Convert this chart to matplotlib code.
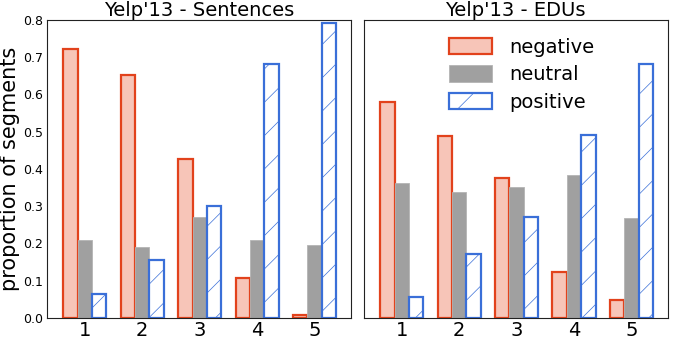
import numpy as np
import matplotlib
matplotlib.use("Agg")
import matplotlib.pyplot as plt

# datos
ratings = [1, 2, 3, 4, 5]
labels = ['negative', 'neutral', 'positive']
sent_neg = [0.722, 0.652, 0.427, 0.108, 0.008]
sent_neu = [0.209, 0.190, 0.270, 0.209, 0.195]
sent_pos = [0.064, 0.155, 0.300, 0.682, 0.793]
edu_neg = [0.581, 0.489, 0.375, 0.123, 0.047]
edu_neu = [0.362, 0.337, 0.352, 0.384, 0.269]
edu_pos = [0.056, 0.172, 0.272, 0.491, 0.681]

plt.rcParams['hatch.color'] = '#bcd0f2'
plt.rcParams['hatch.linewidth'] = 0.5

fig = plt.figure(figsize=(6.75, 3.39), dpi=100)
ax1 = fig.add_axes([0.0696, 0.062, 0.450, 0.879])
ax2 = fig.add_axes([0.539, 0.062, 0.450, 0.879])

x = np.array(ratings)
w = 0.25

def dibujar(ax, neg, neu, pos, titulo):
    ax.bar(x - w, neg, w, color='#f7c5b8', edgecolor='#e2421c', linewidth=1.6, label=labels[0])
    ax.bar(x, neu, w, color='#a0a0a0', edgecolor='#b4b4b4', linewidth=0.6, label=labels[1])
    ax.bar(x + w, pos, w, color='white', edgecolor='#3a6fd8', linewidth=1.6, hatch='/', label=labels[2])
    ax.set_xlim(0.34, 5.63)
    ax.set_ylim(0, 0.8)
    ax.set_xticks(ratings)
    ax.tick_params(axis='x', labelsize=14, length=0, pad=2)
    ax.set_title(titulo, fontsize=14, pad=1)
    for s in ax.spines.values():
        s.set_color('#222222')

dibujar(ax1, sent_neg, sent_neu, sent_pos, "Yelp'13 - Sentences")
dibujar(ax2, edu_neg, edu_neu, edu_pos, "Yelp'13 - EDUs")

ax1.set_yticks(np.arange(0, 0.81, 0.1))
ax1.set_yticklabels([f'{v:.1f}' for v in np.arange(0, 0.81, 0.1)])
ax1.tick_params(axis='y', labelsize=9, length=0, pad=3)
ax1.set_ylabel('proportion of segments', fontsize=15, labelpad=2)
ax2.set_yticks([])

ax2.legend(loc='upper center', bbox_to_anchor=(0.52, 1.0), frameon=False, fontsize=14,
           handlelength=2.2, handleheight=0.9, labelspacing=0.45, handletextpad=0.9)

fig.savefig('out.png', dpi=100)
